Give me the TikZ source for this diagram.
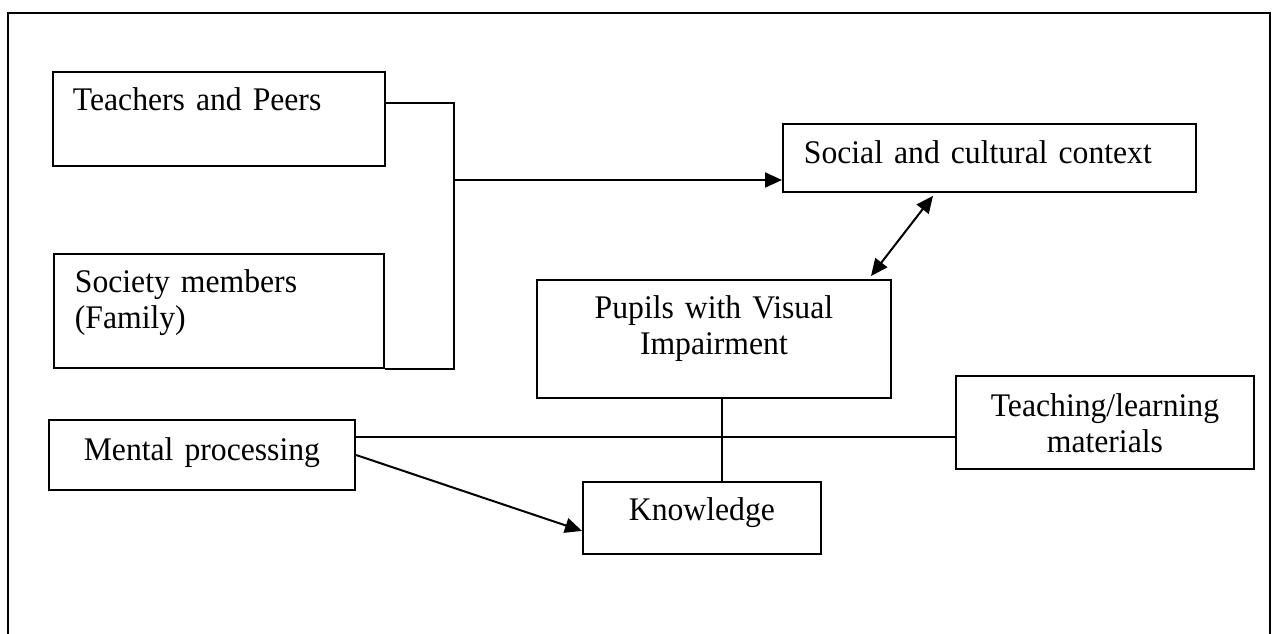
\documentclass[tikz,border=0pt]{standalone}
\usepackage{fontspec}
\setmainfont{Liberation Serif}[FakeStretch=0.96]
\usetikzlibrary{arrows.meta}

\tikzset{
  caja/.style={draw, line width=1.8pt, inner sep=0pt, anchor=north west, font=\fontsize{33}{36}\selectfont},
  linea/.style={line width=2pt},
  flecha/.style={linea, -{Triangle[length=17pt,width=15pt]}},
}

\begin{document}
\begin{tikzpicture}[x=1pt,y=-1pt]
		\useasboundingbox (0,0) rectangle (1273,633);
		
		% Marco exterior
		\draw[line width=2.6pt] (8,640) -- (8,13) -- (1270,13) -- (1270,640);
		
		% Cajas
		\node[caja, align=left, inner xsep=20pt, text width=292pt, text height=39pt, text depth=55pt] (teach) at (52,71) {Teachers and Peers};
		\node[caja, align=left, inner xsep=21pt, text width=288pt, text height=39pt, text depth=75pt] (soc) at (53,253) {Society members\\(Family)};
		\node[caja, align=left, inner xsep=21pt, text width=371pt, text height=40pt, text depth=28pt] (ctx) at (782,123) {Social and cultural context};
		\node[caja, align=center, text width=354pt, text height=39pt, text depth=79pt] (pup) at (536,279) {Pupils with Visual\\Impairment};
		\node[caja, align=center, text width=306pt, text height=41pt, text depth=29pt] (ment) at (48,419) {Mental processing};
		\node[caja, align=center, text width=298pt, text height=41pt, text depth=52pt] (mat) at (955,375) {Teaching/learning\\materials};
		\node[caja, align=center, text width=238pt, text height=39pt, text depth=33pt] (know) at (582,481) {Knowledge};
		
		% Puntos de union
		\coordinate (jt) at (454,103);
		\coordinate (jm) at (454,180);
		\coordinate (hl) at (722,437);
		
		% Conectores
		\draw[linea] (teach.east |- jt) -- (jt) |- (soc.south east);
		\draw[flecha] (jm) -- (ctx.west |- jm);
		\draw[linea, {Triangle[length=17pt,width=15pt]}-{Triangle[length=17pt,width=15pt]}] ([xshift=151pt,yshift=-3pt]ctx.south west) -- ([xshift=335pt,yshift=3pt]pup.north west);
		\draw[linea] (ment.east |- hl) -- (mat.west |- hl);
		\draw[linea] (pup.south -| hl) -- (know.north -| hl);
		\draw[flecha] (ment.east) -- ([yshift=-13pt]know.west);
		
\end{tikzpicture}
\end{document}
